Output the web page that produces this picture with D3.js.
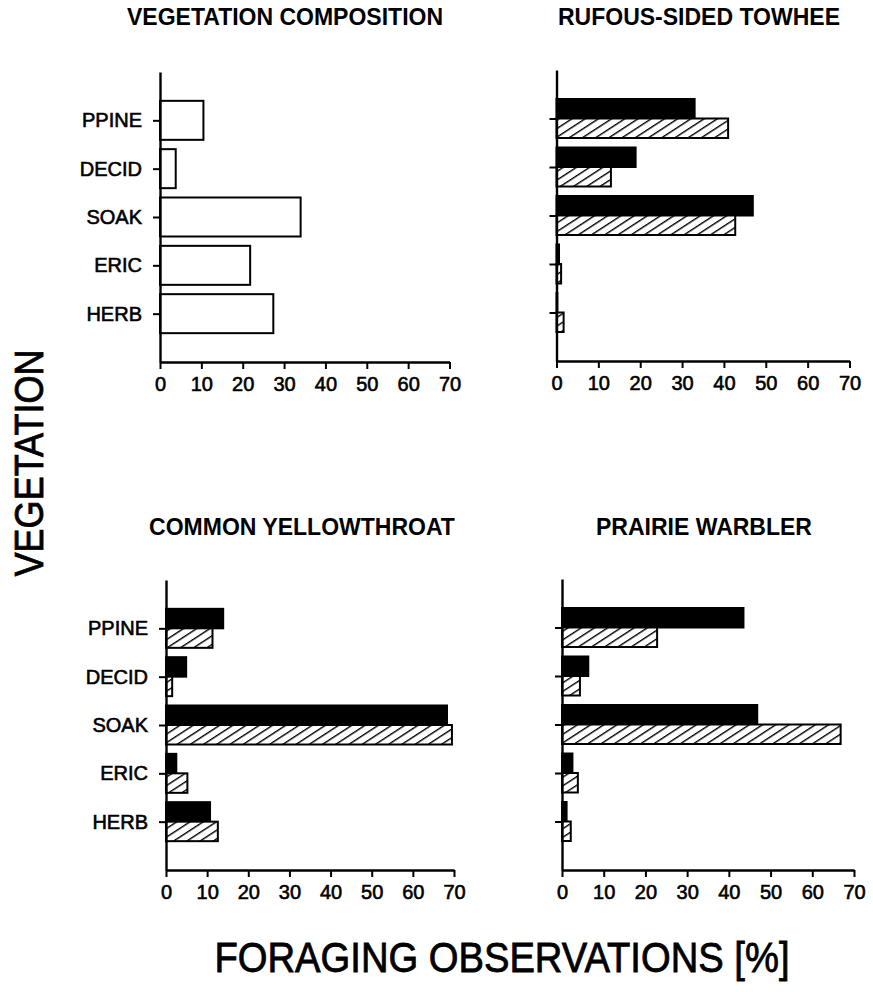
<!DOCTYPE html>
<html>
<head>
<meta charset="utf-8">
<script src="https://cdn.jsdelivr.net/npm/d3@7"></script>
<style>
    body { margin: 0; background: #fff; }
    svg { display: block; font-family: "Liberation Sans", Arial, sans-serif; }
</style>
</head>
<body>
<div id="chart-container"></div>
<script>
const categories = ["PPINE", "DECID", "SOAK", "ERIC", "HERB"];
const xTicks = [0, 10, 20, 30, 40, 50, 60, 70];

const vegetationComposition = [10.5, 3.8, 34, 21.8, 27.4];
const towheeSolid = [33, 18.9, 46.9, 0.6, 0.2];
const towheeHatched = [41, 13, 42.7, 1.1, 1.7];
const yellowthroatSolid = [13.9, 4.9, 68.3, 2.5, 10.7];
const yellowthroatHatched = [11.3, 1.5, 69.5, 5.2, 12.6];
const warblerSolid = [43.5, 6.3, 46.8, 2.5, 1.1];
const warblerHatched = [22.8, 4.3, 66.8, 3.8, 2.1];

document.addEventListener("DOMContentLoaded", () => {
    const svgW = 873;
    const svgH = 992;
    const barH = 39; // total height of a category's bars

    const svg = d3.select("#chart-container")
    .append("svg")
    .attr("width", svgW)
    .attr("height", svgH);

    const defs = svg.append("defs");
    const hatch = defs.append("pattern")
    .attr("id", "hatch")
    .attr("patternUnits", "userSpaceOnUse")
    .attr("width", 7.2)
    .attr("height", 7.2)
    .attr("patternTransform", "rotate(57)");
    hatch.append("rect").attr("width", 7.2).attr("height", 7.2).attr("fill", "#fff");
    hatch.append("line")
    .attr("x1", 0).attr("y1", -1).attr("x2", 0).attr("y2", 9)
    .attr("stroke", "#000")
    .attr("stroke-width", 2.8);

    // panel frames: x0 / x70 pixel positions and y top / bottom of the axes
    const panels = [
        {title: "VEGETATION COMPOSITION", tx: 285, ty: 25, x0: 160, x1: 449.5, y0: 72, y1: 362, labels: true,
            series: [{values: vegetationComposition, fill: "#fff"}]},
        {title: "RUFOUS-SIDED TOWHEE", tx: 699, ty: 25, x0: 556.5, x1: 849.5, y0: 70, y1: 361, labels: false,
            series: [{values: towheeSolid, fill: "#000"}, {values: towheeHatched, fill: "url(#hatch)"}]},
        {title: "COMMON YELLOWTHROAT", tx: 302, ty: 535, x0: 166, x1: 454, y0: 580, y1: 870, labels: true,
            series: [{values: yellowthroatSolid, fill: "#000"}, {values: yellowthroatHatched, fill: "url(#hatch)"}]},
        {title: "PRAIRIE WARBLER", tx: 704, ty: 535, x0: 562, x1: 854, y0: 579, y1: 870, labels: false,
            series: [{values: warblerSolid, fill: "#000"}, {values: warblerHatched, fill: "url(#hatch)"}]}
    ];

    panels.forEach(p => {
        const xScale = d3.scaleLinear()
        .domain([0, 70])
        .range([p.x0, p.x1]);

        const yScale = d3.scalePoint()
        .domain(categories)
        .range([p.y0, p.y1])
        .padding(1);

        const g = svg.append("g");
        const h = barH / p.series.length;

        p.series.forEach((s, si) => {
            g.append("g")
            .selectAll("rect")
            .data(s.values)
            .enter()
            .append("rect")
            .attr("x", xScale(0))
            .attr("y", (d, i) => yScale(categories[i]) - barH / 2 + si * h)
            .attr("width", d => xScale(d) - xScale(0))
            .attr("height", h)
            .attr("fill", s.fill)
            .attr("stroke", "#000")
            .attr("stroke-width", 2);
        });

        const xAxis = g.append("g")
        .attr("transform", `translate(0, ${p.y1})`)
        .call(d3.axisBottom(xScale).tickValues(xTicks).tickSize(7).tickSizeOuter(0).tickPadding(8));

        const yAxis = g.append("g")
        .attr("transform", `translate(${p.x0}, 0)`)
        .call(d3.axisLeft(yScale).tickSize(7).tickSizeOuter(0).tickPadding(11)
            .tickFormat(d => p.labels ? d : ""));

        [xAxis, yAxis].forEach(a => {
            a.select(".domain").attr("stroke-width", 2.4).attr("stroke", "#000");
            a.selectAll(".tick line").attr("stroke-width", 2).attr("stroke", "#000");
            a.selectAll("text")
            .attr("fill", "#000")
            .attr("stroke", "#000")
            .attr("stroke-width", 0.6)
            .style("font-family", "Liberation Sans, Arial, sans-serif")
            .style("font-size", "20px");
        });

        svg.append("text")
        .text(p.title)
        .attr("x", p.tx)
        .attr("y", p.ty)
        .style("text-anchor", "middle")
        .style("font-weight", "bold")
        .style("font-size", "23px");
    });

    svg.append("text")
    .text("VEGETATION")
    .attr("x", 28)
    .attr("y", 463)
    .attr("transform", "rotate(-90, 28, 463)")
    .attr("dy", "0.36em")
    .attr("textLength", 227)
    .attr("lengthAdjust", "spacingAndGlyphs")
    .attr("stroke", "#000")
    .attr("stroke-width", 0.8)
    .style("text-anchor", "middle")
    .style("font-size", "41px");

    svg.append("text")
    .text("FORAGING OBSERVATIONS [%]")
    .attr("x", 502)
    .attr("y", 972)
    .attr("textLength", 575)
    .attr("lengthAdjust", "spacingAndGlyphs")
    .attr("stroke", "#000")
    .attr("stroke-width", 0.8)
    .style("text-anchor", "middle")
    .style("font-size", "42px");
});
</script>
</body>
</html>
